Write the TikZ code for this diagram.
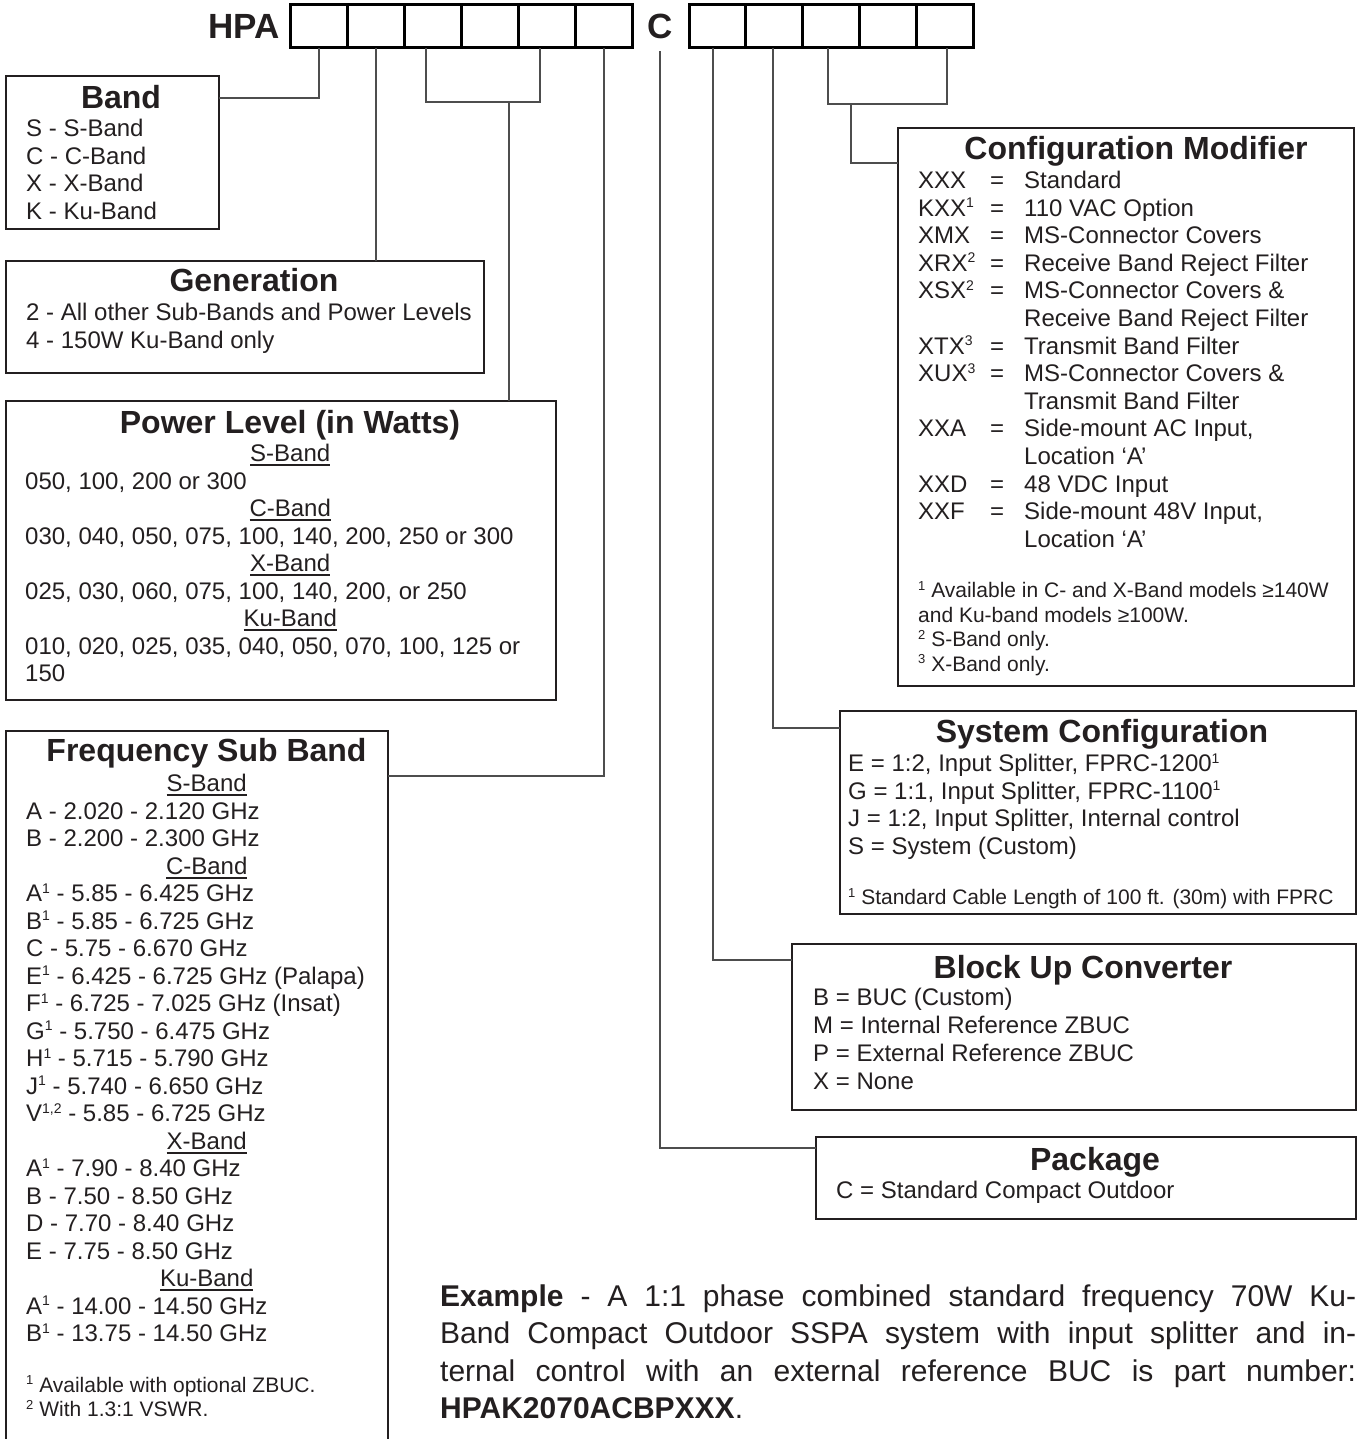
\documentclass[tikz,border=0pt]{standalone}
\usepackage{fontspec}
\setmainfont{Liberation Sans}
\usetikzlibrary{calc}
\definecolor{ink}{HTML}{231F20}
\definecolor{wirec}{HTML}{4D4D4D}
\newcommand\bodyf{\fontsize{24}{27.5}\selectfont}
\newcommand\titlef{\fontsize{32}{36}\selectfont\bfseries}
\newcommand\notef{\fontsize{21}{24.6}\selectfont}
\newcommand\codef{\fontsize{35}{40}\selectfont\bfseries}
\newcommand\ulx[1]{\setbox0\hbox{#1}\rlap{\vrule height -2.6pt depth 4.4pt width \wd0}\box0}
\newcommand\sx[1]{\raisebox{8.5pt}{\fontsize{14}{14}\selectfont #1}}
\newcommand\sxn[1]{\raisebox{7.5pt}{\fontsize{13}{13}\selectfont #1}}
\newcommand\ctr[1]{\makebox[\linewidth]{#1}}
\newcommand\cm[2]{\makebox[72pt][l]{#1}\makebox[34pt][l]{=}#2}
\newcommand\cmc[1]{\hspace*{106pt}#1}
\begin{document}
\begin{tikzpicture}[x=1pt,y=-1pt,
  frame/.style={draw=ink,line width=1.5pt,inner sep=0pt,outer sep=0pt,anchor=north west},
  cell/.style={draw=black,line width=3pt,inner sep=0pt,outer sep=0pt,anchor=north west,minimum height=43pt},
  wire/.style={draw=wirec,line width=2pt},
  ttl/.style={anchor=base,inner sep=0pt,text=ink,font=\titlef},
  txt/.style={anchor=base west,inner sep=0pt,text=ink},
]
\useasboundingbox (0,0) rectangle (1359,1439);

% part number code
\node[anchor=base east,inner sep=0pt,text=ink,font=\codef] (hpa) at (280,38.5) {HPA};
\foreach \i in {1,...,6} {\node[cell,minimum width=57pt] (c\i) at ({290+57*(\i-1)},5) {};}
\node[anchor=base,inner sep=0pt,text=ink,font=\codef] (Cl) at (660,38.5) {C};
\foreach \i in {1,...,5} {\node[cell,minimum width=56.8pt] (d\i) at ({689+56.8*(\i-1)},5) {};}

% frames
\node[frame,minimum width=213pt,minimum height=153pt] (band) at (6,76) {};
\node[frame,minimum width=478pt,minimum height=112pt] (gen) at (6,261) {};
\node[frame,minimum width=550pt,minimum height=299pt] (pwr) at (6,401) {};
\node[frame,minimum width=382pt,minimum height=740pt] (freq) at (6,731) {};
\node[frame,minimum width=456pt,minimum height=558pt] (cfg) at (898,128) {};
\node[frame,minimum width=516pt,minimum height=203pt] (sys) at (840,711) {};
\node[frame,minimum width=564pt,minimum height=166pt] (buc) at (792,944) {};
\node[frame,minimum width=540pt,minimum height=82pt] (pkg) at (816,1137) {};

% connectors
\draw[wire] (c1.south) |- ([yshift=-22pt]band.north east);
\draw[wire] (c2.south) -- (c2.south |- gen.north);
\coordinate (pL) at ([xshift=-6.5pt]c3.south);
\coordinate (pR) at ([xshift=-6.5pt]c5.south);
\draw[wire] (pL) -- ++(0,54) -| (pR);
\coordinate (pM) at ($(pL)+(83,54)$);
\draw[wire] (pM) -- (pM |- pwr.north);
\draw[wire] (c6.south) |- ([yshift=-45pt]freq.north east);
\coordinate (cstem) at ([yshift=-12pt]Cl.south);
\draw[wire] (cstem) |- ([yshift=-11pt]pkg.north west);
\draw[wire] ([xshift=-4.4pt]d1.south) |- ([yshift=-16pt]buc.north west);
\draw[wire] ([xshift=-1.2pt]d2.south) |- ([yshift=-17pt]sys.north west);
\coordinate (qL) at ([xshift=-3pt]d3.south);
\coordinate (qR) at ([xshift=2.4pt]d5.south);
\draw[wire] (qL) -- ++(0,56) -| (qR);
\coordinate (qM) at ($(qL)+(23,56)$);
\draw[wire] (qM) |- ([yshift=-35pt]cfg.north west);

% Band
\node[ttl] (bandT) at (121,108.5) {Band};
\node[txt] (bandB) at (26,137) {\parbox[t]{190pt}{\bodyf S - S-Band\\C - C-Band\\X - X-Band\\K - Ku-Band}};

% Generation
\node[ttl] (genT) at (254,291.5) {Generation};
\node[txt] (genB) at (26,320.6) {\parbox[t]{455pt}{\bodyf 2 - All other Sub-Bands and Power Levels\\4 - 150W Ku-Band only}};

% Power
\node[ttl] (pwrT) at (290,433.5) {Power Level (in Watts)};
\node[txt] (pwrB) at (25,461.6) {\parbox[t]{530pt}{\bodyf
\ctr{\ulx{S-Band}}\\
050, 100, 200 or 300\\
\ctr{\ulx{C-Band}}\\
030, 040, 050, 075, 100, 140, 200, 250 or 300\\
\ctr{\ulx{X-Band}}\\
025, 030, 060, 075, 100, 140, 200, or 250\\
\ctr{\ulx{Ku-Band}}\\
010, 020, 025, 035, 040, 050, 070, 100, 125 or\\
150}};

% Frequency
\node[ttl] (freqT) at (206.5,761.5) {Frequency Sub Band};
\node[txt] (freqB) at (26,791.6) {\parbox[t]{361pt}{\bodyf
\ctr{\ulx{S-Band}}\\
A - 2.020 - 2.120 GHz\\
B - 2.200 - 2.300 GHz\\
\ctr{\ulx{C-Band}}\\
A\sx{1} - 5.85 - 6.425 GHz\\
B\sx{1} - 5.85 - 6.725 GHz\\
C - 5.75 - 6.670 GHz\\
E\sx{1} - 6.425 - 6.725 GHz (Palapa)\\
F\sx{1} - 6.725 - 7.025 GHz (Insat)\\
G\sx{1} - 5.750 - 6.475 GHz\\
H\sx{1} - 5.715 - 5.790 GHz\\
J\sx{1} - 5.740 - 6.650 GHz\\
V\sx{1,2} - 5.85 - 6.725 GHz\\
\ctr{\ulx{X-Band}}\\
A\sx{1} - 7.90 - 8.40 GHz\\
B - 7.50 - 8.50 GHz\\
D - 7.70 - 8.40 GHz\\
E - 7.75 - 8.50 GHz\\
\ctr{\ulx{Ku-Band}}\\
A\sx{1} - 14.00 - 14.50 GHz\\
B\sx{1} - 13.75 - 14.50 GHz}};
\node[txt] (freqN) at (26,1392) {\parbox[t]{361pt}{\notef
\sxn{1} Available with optional ZBUC.\\
\sxn{2} With 1.3:1 VSWR.}};

% Configuration Modifier
\node[ttl] (cfgT) at (1136,159.5) {Configuration Modifier};
\node[txt] (cfgB) at (918,188.6) {\parbox[t]{430pt}{\fontsize{24}{27.6}\selectfont
\cm{XXX}{Standard}\\
\cm{KXX\sx{1}}{110 VAC Option}\\
\cm{XMX}{MS-Connector Covers}\\
\cm{XRX\sx{2}}{Receive Band Reject Filter}\\
\cm{XSX\sx{2}}{MS-Connector Covers \&}\\
\cmc{Receive Band Reject Filter}\\
\cm{XTX\sx{3}}{Transmit Band Filter}\\
\cm{XUX\sx{3}}{MS-Connector Covers \&}\\
\cmc{Transmit Band Filter}\\
\cm{XXA}{Side-mount AC Input,}\\
\cmc{Location ‘A’}\\
\cm{XXD}{48 VDC Input}\\
\cm{XXF}{Side-mount 48V Input,}\\
\cmc{Location ‘A’}}};
\node[txt] (cfgN) at (918,597.5) {\parbox[t]{430pt}{\notef
\sxn{1} Available in C- and X-Band models ≥140W\\
and Ku-band models ≥100W.\\
\sxn{2} S-Band only.\\
\sxn{3} X-Band only.}};

% System Configuration
\node[ttl] (sysT) at (1102,742.5) {System Configuration};
\node[txt] (sysB) at (848,771.6) {\parbox[t]{500pt}{\fontsize{24}{27.6}\selectfont
E = 1:2, Input Splitter, FPRC-1200\sx{1}\\
G = 1:1, Input Splitter, FPRC-1100\sx{1}\\
J = 1:2, Input Splitter, Internal control\\
S = System (Custom)}};
\node[txt] (sysN) at (848,904.5) {\notef\sxn{1} Standard Cable Length of 100 ft. (30m) with FPRC};

% Block Up Converter
\node[ttl] (bucT) at (1083,978.5) {Block Up Converter};
\node[txt] (bucB) at (813,1005.6) {\parbox[t]{530pt}{\fontsize{24}{27.8}\selectfont
B = BUC (Custom)\\
M = Internal Reference ZBUC\\
P = External Reference ZBUC\\
X = None}};

% Package
\node[ttl] (pkgT) at (1095,1170.5) {Package};
\node[txt] (pkgB) at (836,1198.6) {\bodyf C = Standard Compact Outdoor};

% Example
\node[txt] (ex) at (440,1306) {\parbox[t]{916pt}{\fontsize{30}{37.6}\selectfont\hyphenpenalty=10000
\textbf{Example} - A 1:1 phase combined standard frequency 70W Ku-\linebreak
Band Compact Outdoor SSPA system with input splitter and in-\linebreak
ternal control with an external reference BUC is part number:\linebreak
\textbf{HPAK2070ACBPXXX}.}};
\end{tikzpicture}
\end{document}
